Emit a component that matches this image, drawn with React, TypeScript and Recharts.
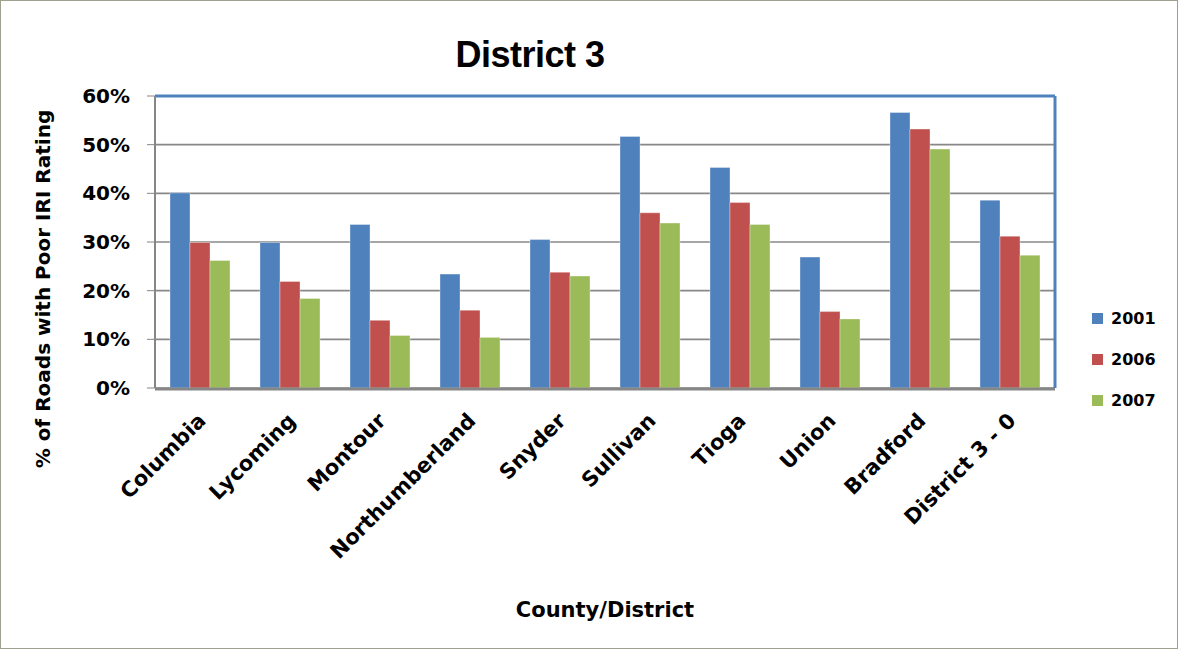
import React from 'react';
import { BarChart, Bar, XAxis, YAxis, CartesianGrid, Legend, Label } from 'recharts';

const counties = ['Columbia', 'Lycoming', 'Montour', 'Northumberland', 'Snyder', 'Sullivan', 'Tioga', 'Union', 'Bradford', 'District 3 - 0'];
const pct2001 = [40.1, 29.9, 33.6, 23.4, 30.5, 51.7, 45.3, 26.9, 56.6, 38.6];
const pct2006 = [29.9, 21.9, 13.9, 16.0, 23.8, 36.0, 38.1, 15.7, 53.2, 31.2];
const pct2007 = [26.2, 18.4, 10.8, 10.4, 23.0, 33.9, 33.6, 14.2, 49.1, 27.3];
const years = ['2001', '2006', '2007'];
const colors = ['#4F81BD', '#C0504D', '#9BBB59'];
const yTicks = [0, 10, 20, 30, 40, 50, 60];
const boundaryTicks = [0, 1, 2, 3, 4, 5, 6, 7, 8, 9, 10];

const data = counties.map((name, i) => ({
  name,
  y2001: pct2001[i],
  y2006: pct2006[i],
  y2007: pct2007[i],
}));

const FONT = '"DejaVu Sans", Verdana, sans-serif';

// rotated county labels
const CountyTick = ({ x, y, payload }: any) => (
  <g transform={`translate(${x + 7},${y + 34})`}>
    <text textAnchor="end" transform="rotate(-45)" fontFamily={FONT} fontWeight="bold" fontSize={21} fill="#000">
      {payload.value}
    </text>
  </g>
);

const renderLegend = () => (
  <div>
    {years.map((yr, i) => (
      <div key={yr} style={{ height: 41, display: 'flex', alignItems: 'center', fontFamily: FONT, fontWeight: 'bold', fontSize: 16, color: '#000' }}>
        <span style={{ width: 11, height: 11, background: colors[i], marginRight: 8, display: 'inline-block' }} />
        {yr}
      </div>
    ))}
  </div>
);

const YTitle = (props: any) => {
  const { viewBox } = props;
  const cx = viewBox.x + 43;
  const cy = viewBox.y + viewBox.height / 2 + 47;
  return (
    <text x={cx} y={cy} transform={`rotate(-90 ${cx} ${cy})`} textAnchor="middle" dominantBaseline="central"
      fontFamily={FONT} fontWeight="bold" fontSize={20} fill="#000">
      % of Roads with Poor IRI Rating
    </text>
  );
};

export default function App() {
  return (
    <div style={{ position: 'absolute', left: 0, top: 0, width: 1178, height: 649, background: '#fff', border: '1px solid #a0a090', boxSizing: 'border-box' }}>
      <div style={{ position: 'absolute', left: 0, width: 1058, top: 36, textAlign: 'center', fontFamily: '"Liberation Sans Narrow", "Liberation Sans", sans-serif', fontWeight: 'bold', fontSize: 36, lineHeight: '36px', color: '#000', letterSpacing: -0.5 }}>
        District 3
      </div>
      <div style={{ position: 'absolute', left: -1, top: -1 }}>
        <BarChart width={1178} height={649} data={data} margin={{ top: 95, right: 42, bottom: 0, left: 0 }}
          barCategoryGap={15} barGap={0}>
          <CartesianGrid vertical={false} stroke="#888888" strokeWidth={1.6} />
          <XAxis dataKey="name" height={1} interval={0} tickLine={false} axisLine={false} tickSize={0} tickMargin={0} tick={<CountyTick />} />
          <XAxis xAxisId="bounds" type="number" domain={[0, 10]} ticks={boundaryTicks} tick={false}
            height={260} stroke="#868686" axisLine={{ stroke: '#868686', strokeWidth: 3 }} tickSize={7}
            tickLine={{ stroke: '#868686', strokeWidth: 2 }}>
            <Label value="County/District" position="insideBottom" offset={32}
              style={{ fontFamily: FONT, fontWeight: 'bold', fontSize: 21, fill: '#000' }} />
          </XAxis>
          <XAxis xAxisId="top" orientation="top" dataKey="name" height={1} tick={false} tickLine={false}
            axisLine={{ stroke: '#4F81BD', strokeWidth: 3 }} />
          <YAxis domain={[0, 60]} ticks={yTicks} width={155} tickFormatter={(v: number) => `${v}%`}
            stroke="#868686" axisLine={{ stroke: '#868686', strokeWidth: 2 }} tickSize={8} tickMargin={17}
            tick={{ fontFamily: FONT, fontWeight: 'bold', fontSize: 20, fill: '#000' }}>
            <Label content={<YTitle />} />
          </YAxis>
          <YAxis yAxisId="right" orientation="right" domain={[0, 60]} width={1} tick={false} tickLine={false}
            axisLine={{ stroke: '#4F81BD', strokeWidth: 3 }} />
          <Legend layout="vertical" align="right" verticalAlign="middle" content={renderLegend}
            wrapperStyle={{ left: 1092, top: 298, width: 80 }} />
          {years.map((yr, i) => (
            <Bar key={yr} dataKey={`y${yr}`} name={yr} fill={colors[i]} stroke="#ffffff" strokeOpacity={0.35}
              strokeWidth={1} isAnimationActive={false} />
          ))}
        </BarChart>
      </div>
    </div>
  );
}
